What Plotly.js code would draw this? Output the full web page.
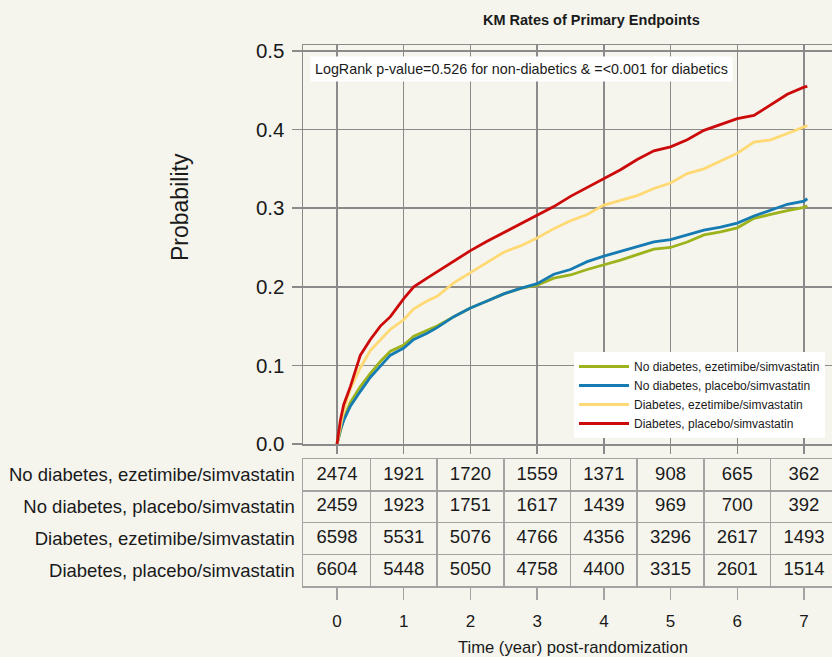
<!DOCTYPE html>
<html>
<head>
<meta charset="utf-8">
<script src="https://cdn.plot.ly/plotly-3.0.1.min.js"></script>
<style>
  html, body { margin: 0; padding: 0; background: #f5f5ee; overflow: hidden; }
  #chart { width: 832px; height: 657px; }
</style>
</head>
<body>
<div id="chart"></div>
<script>
// Kaplan-Meier cumulative event probability by follow-up year
const timeYears = [0, 0.05, 0.1, 0.2, 0.35, 0.5, 0.65, 0.8, 1, 1.15, 1.35, 1.5, 1.75, 2, 2.25, 2.5, 2.75,
  3, 3.25, 3.5, 3.75, 4, 4.25, 4.5, 4.75, 5, 5.25, 5.5, 5.75, 6, 6.25, 6.5, 6.75, 7, 7.05];

const kmNoDiabEze = [0, 0.018, 0.032, 0.053, 0.073, 0.090, 0.105, 0.118, 0.126, 0.137, 0.145, 0.150, 0.162,
  0.173, 0.182, 0.191, 0.198, 0.202, 0.211, 0.215, 0.222, 0.228, 0.234, 0.241, 0.248, 0.250, 0.257,
  0.266, 0.270, 0.275, 0.287, 0.292, 0.297, 0.301, 0.303];
const kmNoDiabPla = [0, 0.018, 0.030, 0.048, 0.067, 0.085, 0.099, 0.113, 0.122, 0.133, 0.141, 0.148, 0.162,
  0.173, 0.182, 0.191, 0.198, 0.204, 0.216, 0.222, 0.232, 0.239, 0.245, 0.251, 0.257, 0.260, 0.266,
  0.272, 0.276, 0.281, 0.290, 0.298, 0.305, 0.309, 0.312];
const kmDiabEze = [0, 0.024, 0.043, 0.070, 0.097, 0.119, 0.133, 0.146, 0.158, 0.172, 0.182, 0.188, 0.205,
  0.218, 0.232, 0.244, 0.252, 0.262, 0.274, 0.284, 0.292, 0.304, 0.310, 0.316, 0.325, 0.332, 0.344,
  0.350, 0.360, 0.370, 0.384, 0.387, 0.395, 0.404, 0.405];
const kmDiabPla = [0, 0.030, 0.050, 0.073, 0.113, 0.133, 0.150, 0.162, 0.185, 0.200, 0.211, 0.219, 0.232,
  0.246, 0.258, 0.269, 0.281, 0.291, 0.302, 0.315, 0.326, 0.337, 0.349, 0.362, 0.373, 0.378, 0.387,
  0.399, 0.406, 0.414, 0.418, 0.432, 0.445, 0.454, 0.455];

// Numbers at risk at each whole year
const years = [0, 1, 2, 3, 4, 5, 6, 7];
const atRiskNoDiabEze = [2474, 1921, 1720, 1559, 1371, 908, 665, 362];
const atRiskNoDiabPla = [2459, 1923, 1751, 1617, 1439, 969, 700, 392];
const atRiskDiabEze = [6598, 5531, 5076, 4766, 4356, 3296, 2617, 1493];
const atRiskDiabPla = [6604, 5448, 5050, 4758, 4400, 3315, 2601, 1514];

const groupNames = [
  'No diabetes, ezetimibe/simvastatin',
  'No diabetes, placebo/simvastatin',
  'Diabetes, ezetimibe/simvastatin',
  'Diabetes, placebo/simvastatin'
];
const yTicks = [0, 0.1, 0.2, 0.3, 0.4, 0.5];
const yTickText = ['0.0', '0.1', '0.2', '0.3', '0.4', '0.5'];

const chartTitle = 'KM Rates of Primary Endpoints';
const testNote = 'LogRank p-value=0.526 for non-diabetics &amp; =&lt;0.001 for diabetics';
const xTitle = 'Time (year) post-randomization';
const yTitle = 'Probability';

// ---- styling ----
const W = 832, H = 657;
const bg = '#f5f5ee';
const ink = '#1a1a1a';
const gridCol = '#8a8a8a';
const tableCol = '#a3a3a3';
const font = 'Liberation Sans, Arial, sans-serif';
const colors = ['#9db21b', '#157bb2', '#ffd974', '#cc0a0a'];

const px = (x) => x / W;          // pixel -> paper x
const py = (y) => (H - y) / H;    // pixel -> paper y

const kmSeries = [kmNoDiabEze, kmNoDiabPla, kmDiabEze, kmDiabPla];
const riskSeries = [atRiskNoDiabEze, atRiskNoDiabPla, atRiskDiabEze, atRiskDiabPla];

const traces = [];
kmSeries.forEach((vals, i) => {
  traces.push({
    type: 'scatter', mode: 'lines',
    x: timeYears, y: vals,
    name: groupNames[i],
    line: { color: colors[i], width: 2.8 },
    xaxis: 'x', yaxis: 'y',
    hoverinfo: 'skip'
  });
});
riskSeries.forEach((vals, i) => {
  traces.push({
    type: 'scatter', mode: 'text',
    x: years, y: years.map(() => i + 0.5),
    text: vals.map(String),
    textposition: 'middle center',
    textfont: { family: font, size: 18.5, color: ink },
    xaxis: 'x2', yaxis: 'y2',
    showlegend: false, hoverinfo: 'skip'
  });
});

const xRange = [-0.51, 7.42];
const plotLeft = px(303);

const layout = {
  width: W, height: H,
  paper_bgcolor: bg, plot_bgcolor: bg,
  margin: { l: 0, r: 0, t: 0, b: 0 },
  font: { family: font, color: ink },
  showlegend: true,
  legend: {
    x: px(574), y: py(438), xanchor: 'left', yanchor: 'bottom',
    bgcolor: '#ffffff', borderwidth: 0,
    font: { family: font, size: 12, color: ink },
    itemwidth: 50,
    tracegroupgap: 0
  },
  xaxis: {
    domain: [plotLeft, 1], range: xRange, anchor: 'y',
    tickmode: 'array', tickvals: years, showticklabels: false,
    ticks: 'outside', ticklen: 8, tickwidth: 1.5, tickcolor: gridCol,
    showgrid: true, gridcolor: gridCol, gridwidth: 1.5,
    showline: true, linecolor: gridCol, linewidth: 1.5, mirror: true,
    zeroline: false, automargin: false
  },
  yaxis: {
    domain: [py(444), py(45)], range: [0, 0.5076], anchor: 'x',
    tickmode: 'array', tickvals: yTicks, ticktext: yTickText,
    ticks: 'outside', ticklen: 10, tickwidth: 1.5, tickcolor: gridCol,
    tickfont: { family: font, size: 20.5, color: ink },
    ticklabelstandoff: 3,
    showgrid: true, gridcolor: gridCol, gridwidth: 1.5,
    showline: true, linecolor: gridCol, linewidth: 1.5,
    zeroline: false, automargin: false
  },
  xaxis2: {
    domain: [plotLeft, 1], range: xRange, anchor: 'y2',
    tickmode: 'array', tickvals: years,
    ticks: 'outside', ticklen: 12, tickwidth: 1.5, tickcolor: tableCol,
    tickfont: { family: font, size: 17, color: ink },
    ticklabelstandoff: 7,
    showgrid: false,
    minor: { tickmode: 'array', tickvals: years.slice(0, -1).map(v => v + 0.5),
             showgrid: true, gridcolor: tableCol, gridwidth: 1.5, ticks: '' },
    showline: true, linecolor: tableCol, linewidth: 1.5, mirror: true,
    zeroline: false, automargin: false
  },
  yaxis2: {
    domain: [py(586), py(459)], range: [groupNames.length, 0], anchor: 'x2',
    tickmode: 'array', tickvals: groupNames.map((_, i) => i + 0.5), ticktext: groupNames,
    ticks: '', tickfont: { family: font, size: 18.5, color: ink },
    ticklabelstandoff: 3,
    showgrid: false,
    minor: { tickmode: 'array', tickvals: groupNames.slice(1).map((_, i) => i + 1),
             showgrid: true, gridcolor: tableCol, gridwidth: 1.5, ticks: '' },
    showline: true, linecolor: tableCol, linewidth: 1.5,
    zeroline: false, automargin: false
  },
  annotations: [
    {
      text: '<b>' + chartTitle + '</b>', xref: 'paper', yref: 'paper',
      x: px(591.5), y: py(20), xanchor: 'center', yanchor: 'middle',
      showarrow: false, font: { family: font, size: 14.5, color: ink }
    },
    {
      text: testNote, xref: 'paper', yref: 'paper',
      x: px(310), y: py(68.5), xanchor: 'left', yanchor: 'middle',
      showarrow: false, bgcolor: '#ffffff', borderpad: 4,
      font: { family: font, size: 14.3, color: ink }
    },
    {
      text: yTitle, xref: 'paper', yref: 'paper',
      x: px(180), y: py(207), xanchor: 'center', yanchor: 'middle', textangle: -90,
      showarrow: false, font: { family: font, size: 23, color: ink }
    },
    {
      text: xTitle, xref: 'paper', yref: 'paper',
      x: px(573), y: py(647), xanchor: 'center', yanchor: 'middle',
      showarrow: false, font: { family: font, size: 16.6, color: ink }
    }
  ]
};

Plotly.newPlot('chart', traces, layout, { displayModeBar: false, staticPlot: true });
</script>
</body>
</html>
